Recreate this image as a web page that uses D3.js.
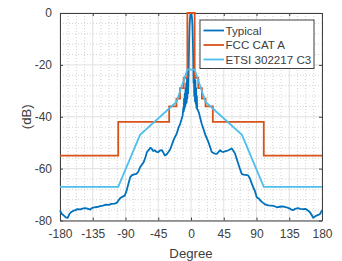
<!DOCTYPE html>
<html>
<head>
<meta charset="utf-8">
<script src="https://cdn.jsdelivr.net/npm/d3@7"></script>
<style>
  body { margin: 0; background: #fff; }
  text { font-family: "Liberation Sans", Arial, Helvetica, sans-serif; fill: #404040; }
</style>
</head>
<body>
<div id="chart"></div>
<script>
const width = 342;
const height = 261;

// tick values
const xTicks = [-180, -135, -90, -45, 0, 45, 90, 135, 180];
const yTicks = [-80, -60, -40, -20, 0];

// legend labels
const seriesNames = ["Typical", "FCC CAT A", "ETSI 302217 C3"];
const seriesColors = ["#0072BD", "#D95319", "#4DBEEE"];

const typicalDeg = [-180, -177.5, -175, -172, -169.5, -167, -165, -162, -159, -156, -152, -148, -145, -141, -138.5, -136, -133, -129, -125, -121, -117, -113, -109, -105, -102, -99, -97, -94, -91, -88.5, -86, -83.5, -81, -78, -75, -72.5, -70, -67.5, -65, -62.5, -60.5, -58, -56, -54, -52, -50, -47.5, -45, -42.5, -40, -38, -36, -33.5, -31, -28.5, -26.5, -24, -22, -19.6, -17.5, -15, -13, -11.5, -10.5, -10, -9.5, -9, -8.5, -8, -7.5, -7, -6.5, -6, -5.5, -5, -4.5, -4, -3.5, -3, -2.5, -2, -1.5, -1, -0.5, 0, 0.5, 1, 1.5, 2, 2.5, 3, 3.5, 4, 4.5, 5, 5.5, 6, 6.5, 7, 7.5, 8, 8.5, 9.5, 11, 12.5, 14.5, 17, 19.5, 22, 24, 26, 28.5, 31, 33, 35.5, 38, 40, 42, 44.5, 47, 49, 51.5, 54, 56, 58, 60.5, 62.5, 65, 67.5, 69.6, 72, 75, 78.5, 81, 83.5, 86, 88, 90.3, 93, 96, 99, 102, 106, 110, 114, 118, 122, 126, 131, 135, 138, 140.5, 143, 147, 150, 154, 157, 160, 163.5, 166, 168, 170, 172.5, 175, 177, 179, 180];
const typicalDb = [-76.1, -77.5, -78, -78.8, -79, -77.5, -76.8, -76.3, -76, -75.6, -75.7, -75.3, -75.2, -75.5, -75.8, -75.2, -74.9, -74.8, -74.5, -74.3, -73.9, -74, -73.6, -73.5, -73.2, -72, -71.3, -70.8, -70.4, -68.5, -65.8, -63.3, -62.5, -62.2, -62, -61.2, -59.5, -58.5, -57.5, -55.5, -53.6, -52.8, -52, -52.3, -53.2, -52.9, -53.5, -53.6, -53, -52.9, -53.8, -54.9, -54.5, -53.6, -52.5, -51, -49, -47.8, -46.5, -44.5, -42.8, -41, -39.5, -36.5, -38, -33, -37, -31, -36, -29, -35, -27, -34.5, -25, -33, -24, -31, -26, -18, -10, -5, -2.5, -1, -0.2, 0, -0.2, -1, -2.5, -5, -10, -17, -27, -23, -32, -24, -34, -26, -35, -29, -36.5, -32, -37, -37.5, -38.5, -40.3, -42.5, -44.6, -46.8, -48.5, -49.8, -51.5, -53.6, -54, -54.2, -54.3, -53.5, -52.9, -53.4, -53.6, -53.3, -53.2, -52.9, -52.5, -52.2, -53, -54.2, -56, -58.1, -60.3, -62, -62.3, -62.4, -62.6, -63.8, -65.8, -67.5, -68.8, -71, -71.5, -72.5, -73.2, -73.8, -74.2, -74.3, -74.4, -74.9, -74.7, -74.6, -74.9, -75.3, -75.8, -76, -75.5, -75.2, -75.5, -75.6, -75.5, -76, -76.8, -78, -79, -78.5, -78.1, -77.8, -77.6, -76.6, -76];

// FCC Category A mask: segment edges and level for each segment
const fccEdges = [-180, -100, -30, -20, -15, -10, -5, 5, 10, 15, 20, 30, 100, 180];
const fccLevels = [-55, -42, -36, -33, -29, -25, 0, -25, -29, -33, -36, -42, -55];

// ETSI EN 302 217 class 3 envelope
const etsiDeg = [-180, -100, -70, -20, -5, 5, 20, 70, 100, 180];
const etsiDb = [-67, -67, -47, -34.3, -21.8, -21.8, -34.3, -47, -67, -67];

const margin = { left: 60, top: 13, right: 20, bottom: 40.5 };
const plotW = width - margin.left - margin.right;
const plotH = height - margin.top - margin.bottom;

const svg = d3.select("#chart")
    .append("svg")
    .attr("width", width)
    .attr("height", height);

const x = d3.scaleLinear().domain([-180, 180]).range([0, plotW]);
const y = d3.scaleLinear().domain([-80, 0]).range([plotH, 0]);

const g = svg.append("g")
    .attr("transform", `translate(${margin.left},${margin.top})`);

// minor grid
const xMinor = d3.range(-180, 180.01, 11.25).filter(v => !xTicks.includes(v));
const yMinor = d3.range(-80, 0.01, 4).filter(v => !yTicks.includes(v));

g.append("g").selectAll("line")
    .data(xMinor)
    .join("line")
    .attr("x1", d => x(d)).attr("x2", d => x(d))
    .attr("y1", 0).attr("y2", plotH)
    .attr("stroke", "#c8c8c8")
    .attr("stroke-width", 0.8)
    .attr("stroke-dasharray", "1,2");

g.append("g").selectAll("line")
    .data(yMinor)
    .join("line")
    .attr("y1", d => y(d)).attr("y2", d => y(d))
    .attr("x1", 0).attr("x2", plotW)
    .attr("stroke", "#c8c8c8")
    .attr("stroke-width", 0.8)
    .attr("stroke-dasharray", "1,2");

// major grid
g.append("g").selectAll("line")
    .data(xTicks)
    .join("line")
    .attr("x1", d => x(d)).attr("x2", d => x(d))
    .attr("y1", 0).attr("y2", plotH)
    .attr("stroke", "#e0e0e0");

g.append("g").selectAll("line")
    .data(yTicks)
    .join("line")
    .attr("y1", d => y(d)).attr("y2", d => y(d))
    .attr("x1", 0).attr("x2", plotW)
    .attr("stroke", "#e0e0e0");

// axes (ticks inward), plain hyphen minus like the original
const fmt = d => String(d);
const xAxis = g.append("g")
    .attr("transform", `translate(0,${plotH})`)
    .call(d3.axisBottom(x).tickValues(xTicks).tickFormat(fmt).tickSizeInner(-3).tickSizeOuter(0).tickPadding(9));
const xAxisTop = g.append("g")
    .call(d3.axisTop(x).tickValues(xTicks).tickSizeInner(-3).tickSizeOuter(0).tickFormat(""));
const yAxis = g.append("g")
    .call(d3.axisLeft(y).tickValues(yTicks).tickFormat(fmt).tickSizeInner(-3).tickSizeOuter(0).tickPadding(8));
const yAxisRight = g.append("g")
    .attr("transform", `translate(${plotW},0)`)
    .call(d3.axisRight(y).tickValues(yTicks).tickSizeInner(-3).tickSizeOuter(0).tickFormat(""));

[xAxis, xAxisTop, yAxis, yAxisRight].forEach(a => {
    a.select(".domain").attr("stroke", "#404040");
    a.selectAll(".tick line").attr("stroke", "#404040");
    a.selectAll("text")
        .attr("font-size", 12)
        .attr("fill", "#404040");
});

// lines
const typical = typicalDeg.map((d, i) => [d, typicalDb[i]]);
const fcc = fccLevels.map((lv, i) => [fccEdges[i], lv]);
fcc.push([fccEdges[fccEdges.length - 1], fccLevels[fccLevels.length - 1]]);
const etsi = etsiDeg.map((d, i) => [d, etsiDb[i]]);

const line = d3.line().x(d => x(d[0])).y(d => y(d[1]));
const stepLine = d3.line().x(d => x(d[0])).y(d => y(d[1])).curve(d3.curveStepAfter);

g.append("path")
    .datum(typical)
    .attr("d", line)
    .attr("fill", "none")
    .attr("stroke", seriesColors[0])
    .attr("stroke-width", 1.8)
    .attr("stroke-linejoin", "round");

g.append("path")
    .datum(fcc)
    .attr("d", stepLine)
    .attr("fill", "none")
    .attr("stroke", seriesColors[1])
    .attr("stroke-width", 1.8);

g.append("path")
    .datum(etsi)
    .attr("d", line)
    .attr("fill", "none")
    .attr("stroke", seriesColors[2])
    .attr("stroke-width", 1.8);

// axis labels
svg.append("text")
    .attr("x", margin.left + plotW / 2)
    .attr("y", 257.5)
    .attr("text-anchor", "middle")
    .attr("font-size", 13.2)
    .text("Degree");

svg.append("text")
    .attr("transform", `translate(31,${margin.top + plotH / 2}) rotate(-90)`)
    .attr("text-anchor", "middle")
    .attr("font-size", 13.2)
    .text("(dB)");

// legend
const legend = svg.append("g")
    .attr("transform", "translate(200,20)");

legend.append("rect")
    .attr("x", 0).attr("y", 0)
    .attr("width", 114).attr("height", 48.5)
    .attr("fill", "#fff")
    .attr("stroke", "#404040")
    .attr("stroke-width", 1);

const rows = legend.selectAll("g.row")
    .data(seriesNames)
    .join("g")
    .attr("class", "row")
    .attr("transform", (d, i) => `translate(0,${10.5 + i * 14.5})`);

rows.append("line")
    .attr("x1", 3.5).attr("x2", 24)
    .attr("stroke", (d, i) => seriesColors[i])
    .attr("stroke-width", 1.8);

rows.append("text")
    .attr("x", 25.5)
    .attr("dy", "0.35em")
    .attr("font-size", 11.6)
    .attr("fill", "#1a1a1a")
    .text(d => d);
</script>
</body>
</html>
